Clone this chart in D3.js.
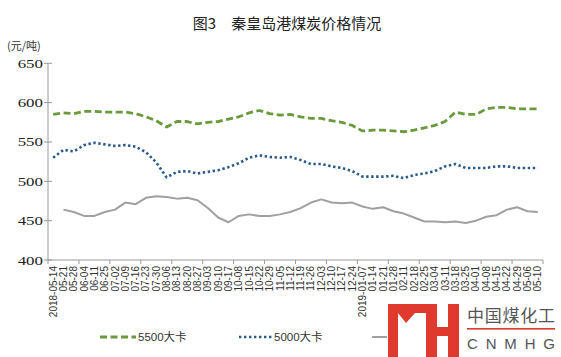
<!DOCTYPE html>
<html>
<head>
<meta charset="utf-8">
<script src="https://d3js.org/d3.v7.min.js"></script>
<style>
  body { margin: 0; background: #fff; }
  svg { display: block; }
</style>
</head>
<body>
<div id="chart"></div>
<script>
  const dates = ["2018-05-14","05-21","05-28","06-04","06-11","06-25","07-02","07-09","07-16","07-23","07-30",
    "08-06","08-13","08-20","08-27","09-03","09-10","09-17","10-08","10-15","10-22","10-29","11-05","11-12",
    "11-19","11-26","12-03","12-10","12-17","12-24","2019-01-07","01-14","01-21","01-28","02-11","02-18",
    "02-25","03-04","03-11","03-18","03-25","04-01","04-08","04-15","04-22","04-29","05-06","05-10"];
  const kcal5500 = [585,587,586,589,589,588,588,588,586,582,577,569,576,576,573,575,576,579,582,587,590,586,584,585,
    582,580,580,577,575,571,564,565,565,564,563,565,568,571,576,588,585,585,592,594,594,592,592,592];
  const kcal5000 = [530,540,538,546,549,547,545,546,544,537,524,505,512,513,510,512,514,518,523,530,533,531,530,531,
    527,522,522,519,517,513,506,506,506,507,504,508,510,513,519,522,517,517,517,519,519,517,517,517];
  const kcal4500 = [null,464,461,456,456,461,464,473,471,479,481,480,478,479,476,466,454,448,456,458,456,456,458,461,
    466,473,477,473,472,473,468,465,467,462,459,454,449,449,448,449,447,450,455,457,464,467,462,461];
  const yTicks = [400, 450, 500, 550, 600, 650];
  const seriesNames = ["5500大卡", "5000大卡", "4500大卡"];

  const width = 561, height = 357;
  const svg = d3.select("#chart").append("svg").attr("width", width).attr("height", height);

  const x = d3.scaleBand().domain(dates).range([48, 543]).padding(0);
  const y = d3.scaleLinear().domain([400, 650]).range([260, 63.3]);
  const cx = d => x(d) + x.bandwidth() / 2;

  // title
  svg.append("text").attr("x", 287).attr("y", 29).attr("text-anchor", "middle")
    .attr("font-family", "Noto Sans CJK SC").attr("font-size", 15).attr("fill", "#222")
    .text("图3　秦皇岛港煤炭价格情况");
  svg.append("text").attr("x", 7).attr("y", 50)
    .attr("font-family", "Noto Sans CJK SC").attr("font-size", 11).attr("fill", "#333")
    .text("(元/吨)");

  // y axis
  svg.append("line").attr("x1", 48).attr("x2", 48).attr("y1", y(650)).attr("y2", y(400))
    .attr("stroke", "#999").attr("stroke-width", 1);
  const yt = svg.append("g").selectAll("g").data(yTicks).join("g");
  yt.append("line").attr("x1", 44).attr("x2", 52).attr("y1", d => y(d)).attr("y2", d => y(d))
    .attr("stroke", "#999");
  yt.append("text").attr("transform", d => `translate(43,${y(d) + 4.5}) scale(1.3,1)`)
    .attr("text-anchor", "end").style("font-family", "'Liberation Serif', 'DejaVu Serif', serif")
    .attr("font-size", 13).attr("fill", "#222").text(d => d);

  // x axis
  svg.append("line").attr("x1", 48).attr("x2", 543).attr("y1", 260).attr("y2", 260)
    .attr("stroke", "#999");
  const tickIdx = d3.range(0, dates.length + 1, 3);
  svg.append("g").selectAll("line").data(tickIdx).join("line")
    .attr("x1", i => i < dates.length ? x(dates[i]) : x.range()[1])
    .attr("x2", i => i < dates.length ? x(dates[i]) : x.range()[1])
    .attr("y1", 260).attr("y2", 264).attr("stroke", "#999");
  svg.append("g").selectAll("text").data(dates).join("text")
    .attr("transform", d => `translate(${cx(d) + 3.5},266) rotate(-90)`)
    .attr("text-anchor", "end").attr("font-family", "Liberation Sans").attr("font-size", 10)
    .attr("fill", "#333").text(d => d);

  // lines
  const line = vals => d3.line().defined(d => d != null)
    .x((d, i) => cx(dates[i])).y(d => y(d))(vals);
  const styles = [
    { vals: kcal5500, color: "#6a9a3c", w: 2.8, dash: "7,3.5" },
    { vals: kcal5000, color: "#2a5a8c", w: 2.6, dash: "2.4,2.6" },
    { vals: kcal4500, color: "#a0a0a0", w: 2, dash: null }
  ];
  styles.forEach(s => {
    svg.append("path").attr("d", line(s.vals)).attr("fill", "none")
      .attr("stroke", s.color).attr("stroke-width", s.w)
      .attr("stroke-dasharray", s.dash).attr("stroke-linejoin", "round");
  });

  // legend
  const legX = [100, 239, 372];
  const legLen = [36, 33, 16];
  styles.forEach((s, k) => {
    svg.append("line").attr("x1", legX[k]).attr("x2", legX[k] + legLen[k]).attr("y1", 337).attr("y2", 337)
      .attr("stroke", s.color).attr("stroke-width", s.w).attr("stroke-dasharray", s.dash);
    svg.append("text").attr("x", legX[k] + legLen[k] + 2).attr("y", 341)
      .attr("font-family", "Liberation Sans, Noto Sans CJK SC").attr("font-size", 11.5).attr("fill", "#333")
      .text(seriesNames[k]);
  });

  // watermark logo
  const logo = svg.append("g");
  logo.append("rect").attr("x", 387).attr("y", 299).attr("width", 174).attr("height", 58).attr("fill", "#fff");
  const red = "#e03a2f";
  logo.append("path").attr("fill", red)
    .attr("d", "M388,304 H437 V357 H426 V313 H415 L406,323 L398,313 V357 H388 Z");
  logo.append("rect").attr("x", 437).attr("y", 327).attr("width", 12).attr("height", 9).attr("fill", red);
  logo.append("rect").attr("x", 448).attr("y", 304).attr("width", 11).attr("height", 53).attr("fill", red);
  logo.append("text").attr("x", 467).attr("y", 322).attr("font-family", "Noto Sans CJK SC")
    .attr("font-size", 17).attr("fill", "#555").attr("textLength", 88).text("中国煤化工");
  logo.append("rect").attr("x", 467).attr("y", 328).attr("width", 88).attr("height", 1.6).attr("fill", red);
  logo.append("text").attr("x", 467).attr("y", 349).attr("font-family", "Liberation Sans")
    .attr("font-size", 15).attr("fill", "#555").attr("textLength", 88).text("CNMHG");
</script>
</body>
</html>
